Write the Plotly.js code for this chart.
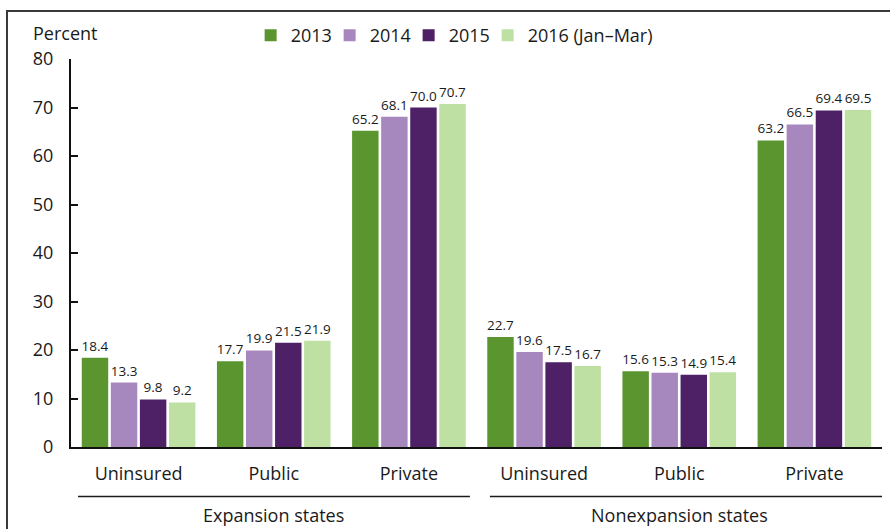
<!DOCTYPE html>
<html>
<head>
<meta charset="utf-8">
<script src="https://cdn.plot.ly/plotly-3.0.1.min.js"></script>
<style>
  html, body { margin: 0; padding: 0; overflow: hidden; background: #fff; }
  #wrap { position: relative; width: 890px; height: 529px; }
  #chart { position: absolute; left: 0; top: 0; width: 890px; height: 529px; }
  #frame { position: absolute; left: 6px; top: 10px; width: 1000px; height: 1000px;
           border-top: 2px solid #3a3a3a; border-left: 2px solid #3a3a3a; pointer-events: none; }
</style>
</head>
<body>
<div id="wrap">
  <div id="chart"></div>
  <div id="frame"></div>
</div>
<script>
// ---- Data ----
const categories = ["Uninsured", "Public", "Private", "Uninsured", "Public", "Private"];
const groups = ["Expansion states", "Nonexpansion states"];
const seriesNames = ["2013", "2014", "2015", "2016 (Jan\u2013Mar)"];
const v2013 = [18.4, 17.7, 65.2, 22.7, 15.6, 63.2];
const v2014 = [13.3, 19.9, 68.1, 19.6, 15.3, 66.5];
const v2015 = [9.8, 21.5, 70.0, 17.5, 14.9, 69.4];
const v2016 = [9.2, 21.9, 70.7, 16.7, 15.4, 69.5];
const yTicks = [0, 10, 20, 30, 40, 50, 60, 70, 80];

// ---- Styles ----
const colors = ["#5a9530", "#a688bf", "#4e2066", "#bee0a3"];
const legendWidths = [34, 34, 34, undefined];
const FONT = "Open Sans, sans-serif";
const xIdx = categories.map((c, i) => i);

const allSeries = [v2013, v2014, v2015, v2016];
const traces = allSeries.map((vals, k) => {
  const t = {
    type: "bar",
    name: seriesNames[k],
    x: xIdx,
    y: vals,
    marker: { color: colors[k] },
    text: vals.map(v => v.toFixed(1)),
    textposition: "outside",
    cliponaxis: false,
    constraintext: "none",
    textfont: { family: FONT, size: 13.5, color: "#1a1a1a" },
    hoverinfo: "skip"
  };
  if (legendWidths[k] !== undefined) t.legendwidth = legendWidths[k];
  return t;
});

// group separator lines and labels
const groupSpans = [[-0.448, 2.451], [2.599, 5.5]];
const groupCenters = [1, 4];
const shapes = groupSpans.map(s => ({
  type: "line", xref: "x", yref: "paper",
  x0: s[0], x1: s[1], y0: -0.1276, y1: -0.1276,
  line: { color: "#1a1a1a", width: 1.3 }
}));
const annotations = groupCenters.map((c, i) => ({
  xref: "x", yref: "paper", x: c, y: -0.1276,
  yanchor: "top", yshift: -4, showarrow: false,
  text: groups[i], font: { family: FONT, size: 18, color: "#1a1a1a" }
}));
annotations.push({
  xref: "paper", yref: "paper", x: -0.049, y: 1, yshift: 26,
  xanchor: "left", yanchor: "middle", showarrow: false,
  text: "Percent", font: { family: FONT, size: 18, color: "#1a1a1a" }
});

const layout = {
  width: 890, height: 529,
  margin: { l: 71, r: 8, t: 59, b: 82 },
  paper_bgcolor: "rgba(0,0,0,0)",
  plot_bgcolor: "rgba(0,0,0,0)",
  barmode: "group",
  bargap: 0.14,
  bargroupgap: 0.09,
  font: { family: FONT, color: "#1a1a1a" },
  showlegend: true,
  legend: {
    orientation: "h", x: 0.2215, xanchor: "left", y: 1.013, yanchor: "bottom",
    yref: "paper", font: { family: FONT, size: 18, color: "#1a1a1a" },
    bgcolor: "rgba(0,0,0,0)"
  },
  xaxis: {
    range: [-0.5, 5.5],
    tickvals: xIdx, ticktext: categories,
    ticks: "", showgrid: false, zeroline: false,
    showline: true, linecolor: "#111", linewidth: 2,
    tickfont: { family: FONT, size: 18, color: "#1a1a1a" },
    ticklabelstandoff: 9,
    fixedrange: true
  },
  yaxis: {
    range: [0, 80],
    tickvals: yTicks,
    ticks: "inside", ticklen: 7, tickwidth: 2, tickcolor: "#111",
    showgrid: false, zeroline: false,
    showline: true, linecolor: "#111", linewidth: 2,
    tickfont: { family: FONT, size: 18, color: "#1a1a1a" },
    ticklabelstandoff: 12,
    fixedrange: true
  },
  shapes: shapes,
  annotations: annotations
};

Plotly.newPlot("chart", traces, layout, { displayModeBar: false, staticPlot: true });
</script>
</body>
</html>
